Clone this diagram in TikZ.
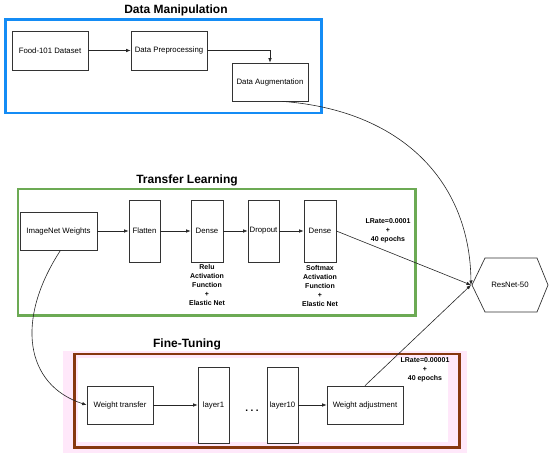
\documentclass[tikz,border=0pt]{standalone}
\usepackage{fontspec}
\setmainfont{Liberation Sans}
\usetikzlibrary{arrows.meta}
\definecolor{dmblue}{RGB}{20,140,245}
\definecolor{tlgreen}{RGB}{108,170,84}
\definecolor{ftbrown}{RGB}{135,55,15}
\definecolor{ftpink}{RGB}{255,232,250}
\tikzset{
  box/.style={draw=black!80, line width=0.7pt, fill=white, inner sep=1pt, font=\fontsize{7.8}{9}\selectfont, align=center},
  title/.style={font=\fontsize{12}{14}\selectfont\bfseries},
  note/.style={font=\fontsize{7}{9}\selectfont\bfseries, align=center, inner sep=0pt},
  conn/.style={draw=black!85, line width=0.6pt, -{Latex[length=4.5pt,width=3.5pt]}},
  frame/.style={line width=2.6pt}
}
\begin{document}
\begin{tikzpicture}[x=1pt,y=-1pt]
\useasboundingbox (0,0) rectangle (550,453);
% Data Manipulation
\node[title] (t1) at (176,10) {Data Manipulation};
\draw[frame, draw=dmblue] (5.5,19.5) rectangle (321.5,113);
\node[box, minimum width=76pt, minimum height=39pt] (food) at (50,50.5) {Food-101 Dataset};
\node[box, minimum width=76pt, minimum height=39pt] (prep) at (169,50.5) {Data Preprocessing};
\node[box, minimum width=76pt, minimum height=38pt] (aug) at (270,82) {Data Augmentation};
\draw[conn] (food) -- (prep);
\draw[conn] (prep.east) -| (aug.north);
% Transfer Learning
\node[title] (t2) at (187,180) {Transfer Learning};
\draw[frame, draw=tlgreen] (18,189) rectangle (415.5,315.5);
\node[box, minimum width=77pt, minimum height=38pt] (imnet) at (58.5,231) {ImageNet Weights};
\node[box, minimum width=31pt, minimum height=62pt] (flat) at (144.5,231) {Flatten};
\node[box, minimum width=32pt, minimum height=62pt] (dense1) at (207,231) {Dense};
\node[box, minimum width=31pt, minimum height=62pt] (drop) at (263.5,231) {Dropout};
\node[box, minimum width=32pt, minimum height=62pt] (dense2) at (320,231) {Dense};
\node[note, anchor=north] (n1) at (207,264) {Relu\\Activation\\Function\\+\\Elastic Net};
\node[note, anchor=north] (n2) at (320,265) {Softmax\\Activation\\Function\\+\\Elastic Net};
\node[note, anchor=north] (n3) at (388,218) {LRate=0.0001\\+\\40 epochs};
\draw[conn] (imnet) -- (flat);
\draw[conn] (flat) -- (dense1);
\draw[conn] (dense1) -- (drop);
\draw[conn] (drop) -- (dense2);
% ResNet
\node[font=\fontsize{7.8}{9}\selectfont] (resnet) at (510,285) {ResNet-50};
\draw[line width=0.7pt, draw=black!80] (472,285) -- (485,258) -- (537,258) -- (548,285) -- (537,312) -- (485,312) -- cycle;
\coordinate (rl) at (471,285);
% Fine-Tuning
\fill[ftpink] (63,351) rectangle (467,453);
\fill[white] (78,358) rectangle (448,442);
\node[title] (t3) at (187,344) {Fine-Tuning};
\draw[frame, draw=ftbrown] (74.5,354) rectangle (459.5,447.5);
\node[box, minimum width=66pt, minimum height=38pt] (wt) at (120,405) {Weight transfer};
\node[box, minimum width=31pt, minimum height=76pt] (l1) at (213.5,405) {layer1};
\node[box, minimum width=31pt, minimum height=76pt] (l10) at (282.5,405) {layer10};
\node[box, minimum width=76pt, minimum height=38pt] (wa) at (365,405) {Weight adjustment};
\node[font=\fontsize{10}{10}\selectfont\bfseries] (dots) at (252,411) {.\hspace{2.5pt}.\hspace{2.5pt}.};
\node[note, anchor=north] (n4) at (425,357) {LRate=0.00001\\+\\40 epochs};
\draw[conn] (wt) -- (l1);
\draw[conn] (l10) -- (wa);
% long connectors
\draw[conn] ([xshift=12pt]aug.south) .. controls (400,110) and (470,180) .. (rl);
\draw[conn] (dense2.east) -- (rl);
\draw[conn] (wa.north) -- (rl);
\draw[conn] ([xshift=2pt]imnet.south) .. controls (15,320) and (25,385) .. (wt.west);
\end{tikzpicture}
\end{document}
